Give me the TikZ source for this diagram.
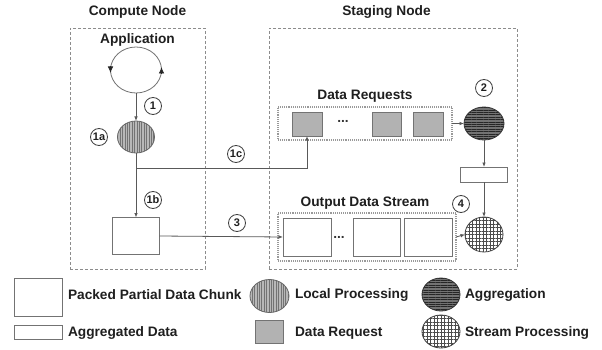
\documentclass[tikz,border=0pt]{standalone}
\usepackage{fontspec}
\setmainfont{Liberation Sans}
\usetikzlibrary{arrows.meta,patterns.meta,shapes.geometric}
\begin{document}
\begin{tikzpicture}[x=1pt,y=-1pt,
  every node/.style={inner sep=0pt,outer sep=0pt},
  txt/.style={font=\fontsize{13.7}{16}\selectfont\bfseries, text=black!88},
  outerbox/.style={draw=black!45, line width=0.8pt, dash pattern=on 3pt off 2pt},
  innerbox/.style={draw=black!40, line width=1.6pt, dash pattern=on 1pt off 0.9pt},
  chunkbox/.style={draw=black!55, line width=0.9pt, fill=white},
  reqbox/.style={draw=black!55, line width=0.9pt, fill=black!30},
  lpstyle/.style={ellipse, draw=black!60, line width=0.8pt, preaction={fill=black!28},
     pattern={Lines[angle=90,distance=2.4pt,line width=0.55pt]}, pattern color=black!55},
  aggstyle/.style={ellipse, draw=black!80, line width=0.8pt, preaction={fill=black!55},
     pattern={Lines[angle=0,distance=2.4pt,line width=0.6pt]}, pattern color=black!85},
  spstyle/.style={ellipse, draw=black!75, line width=0.8pt, preaction={fill=white},
     pattern={Hatch[angle=0,distance=3.5pt,line width=0.45pt]}, pattern color=black!70},
  numlab/.style={circle, draw=black!75, line width=0.8pt, fill=white, minimum size=17pt,
     font=\fontsize{11}{11}\selectfont\bfseries, text=black!88},
  conn/.style={draw=black!65, line width=0.8pt},
  arr/.style={conn, -{Latex[length=4.5pt,width=3.6pt]}},
  looparr/.style={-{Latex[length=6.5pt,width=5.5pt]}, black!85, line width=0.8pt},
  dots/.style={font=\fontsize{13.7}{16}\selectfont\bfseries, text=black!80}
]
\useasboundingbox (0,0) rectangle (602,350);
\fill[white] (0,0) rectangle (602,350);

% titles and outer boxes
\node[txt] (tcomp) at (137.5,12) {Compute Node};
\node[txt] (tstag) at (386.5,12) {Staging Node};
\node[outerbox, minimum width=135pt, minimum height=241pt] (cbox) at (137.5,148.5) {};
\node[outerbox, minimum width=248pt, minimum height=241pt] (sbox) at (393,148.5) {};

% compute node
\node[txt] (app) at (137.5,40) {Application};
\node[ellipse, draw=black!55, line width=0.8pt, minimum width=51pt, minimum height=46pt] (loop) at (136,70) {};
\draw[looparr] ([yshift=4pt]loop.west) -- ([yshift=-3pt]loop.west);
\draw[looparr] ([yshift=-4pt]loop.east) -- ([yshift=3pt]loop.east);
\node[lpstyle, minimum width=37pt, minimum height=32pt] (lp) at (136,137) {};
\node[chunkbox, minimum width=47pt, minimum height=37pt] (chunk) at (136,236) {};
\draw[arr] (loop.south) -- (lp.north);
\draw[arr] (lp.south) -- (chunk.north);
\coordinate (br) at (136,168);

\node[numlab] (l1) at (153,106) {1};
\node[numlab] (l1a) at (99,137) {1a};
\node[numlab] (l1b) at (153,200) {1b};
\node[numlab] (l1c) at (236,154) {1c};
\node[numlab] (l3) at (237,223) {3};

% data requests
\node[txt] (tdr) at (365,96) {Data Requests};
\node[innerbox, minimum width=174pt, minimum height=33pt] (drbox) at (365,123.5) {};
\node[reqbox, minimum width=30pt, minimum height=24pt] (dr1) at (307,124) {};
\node[dots] (drdots) at (343,121) {...};
\node[reqbox, minimum width=29pt, minimum height=24pt] (dr2) at (386.5,124) {};
\node[reqbox, minimum width=30pt, minimum height=24pt] (dr3) at (428,124) {};
\draw[arr] (br) -| (dr1.south);

% aggregation
\node[aggstyle, minimum width=40pt, minimum height=33pt] (agg) at (484,123.5) {};
\node[numlab] (l2) at (484,88) {2};
\draw[arr] (drbox.east) -- (agg.west);
\node[chunkbox, minimum width=47pt, minimum height=15pt] (aggd) at (484,174.5) {};
\draw[arr] (agg.south) -- (aggd.north);

% output data stream
\node[txt] (tos) at (365,203) {Output Data Stream};
\node[innerbox, minimum width=178pt, minimum height=48pt] (osbox) at (367,237) {};
\node[chunkbox, minimum width=48pt, minimum height=38pt] (os1) at (307,237) {};
\node[dots] (osdots) at (339,237) {...};
\node[chunkbox, minimum width=47pt, minimum height=38pt] (os2) at (376.5,237) {};
\node[chunkbox, minimum width=48pt, minimum height=38pt] (os3) at (428,237) {};
\draw[arr] (chunk.east) -- (os1.west);

\node[spstyle, minimum width=38pt, minimum height=35pt] (sp) at (484,234.5) {};
\node[numlab] (l4) at (461,204) {4};
\draw[arr] (aggd.south) -- (sp.north);
\draw[arr] (osbox.east) -- (sp.west);

% legend
\node[chunkbox, minimum width=48pt, minimum height=38pt] (lchunk) at (38,297) {};
\node[txt, anchor=west] (tlchunk) at (68,295) {Packed Partial Data Chunk};
\node[chunkbox, minimum width=48pt, minimum height=14pt] (laggd) at (38,332) {};
\node[txt, anchor=west] (tlaggd) at (68,333) {Aggregated Data};
\node[lpstyle, minimum width=39pt, minimum height=33pt] (llp) at (269.5,296) {};
\node[txt, anchor=west] (tllp) at (295,295) {Local Processing};
\node[reqbox, minimum width=28pt, minimum height=23pt] (ldr) at (269,331.5) {};
\node[txt, anchor=west] (tldr) at (295,333) {Data Request};
\node[aggstyle, minimum width=38pt, minimum height=33pt] (lagg) at (441,294.5) {};
\node[txt, anchor=west] (tlagg) at (465,295) {Aggregation};
\node[spstyle, minimum width=38pt, minimum height=33pt] (lsp) at (441,331.5) {};
\node[txt, anchor=west] (tlsp) at (465,333) {Stream Processing};
\end{tikzpicture}
\end{document}
